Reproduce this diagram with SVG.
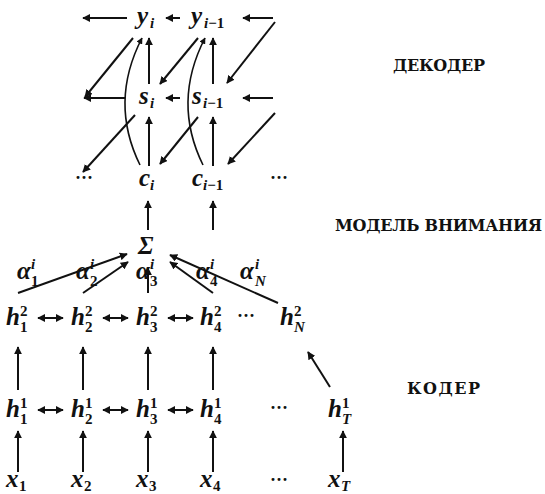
<svg xmlns="http://www.w3.org/2000/svg" width="545" height="494" viewBox="0 0 545 494">
<style>
.t{font-family:"Liberation Serif","Times New Roman",serif;fill:#111}
.m{font-style:italic;font-weight:bold;font-size:25px}
.s{font-style:italic;font-weight:bold;font-size:15px}
.n{font-style:normal;font-weight:bold;font-size:15px}
.d{font-size:18px;font-weight:bold}
.lbl{font-family:"DejaVu Serif",serif;font-weight:bold;font-size:16px;fill:#111}
.a{stroke:#111;stroke-width:2;fill:none;marker-end:url(#h)}
.b{stroke:#111;stroke-width:2;fill:none;marker-end:url(#h);marker-start:url(#hs)}
.c{stroke:#111;stroke-width:1.6;fill:none;marker-end:url(#h)}
</style>
<defs>
<marker id="h" viewBox="0 0 10 10" refX="9" refY="5" markerWidth="4" markerHeight="4" orient="auto" markerUnits="strokeWidth"><path d="M0,0 L10,5 L0,10 z" fill="#111"/></marker>
<marker id="hs" viewBox="0 0 10 10" refX="1" refY="5" markerWidth="4" markerHeight="4" orient="auto" markerUnits="strokeWidth"><path d="M10,0 L0,5 L10,10 z" fill="#111"/></marker>
</defs>
<rect width="545" height="494" fill="#fff"/>
<g id="connectors">
<line class="a" x1="127" y1="18" x2="83" y2="18"/>
<line class="a" x1="180" y1="18" x2="166" y2="18"/>
<line class="a" x1="273" y1="18" x2="243" y2="18"/>
<line class="a" x1="125" y1="98" x2="84" y2="98"/>
<line class="a" x1="180" y1="98" x2="166" y2="98"/>
<line class="a" x1="273" y1="98" x2="243" y2="98"/>
<line class="a" x1="133" y1="38" x2="85" y2="97"/>
<line class="a" x1="198" y1="38" x2="160" y2="84"/>
<line class="a" x1="275" y1="22" x2="227" y2="83"/>
<line class="a" x1="149" y1="84" x2="149" y2="38"/>
<line class="a" x1="213" y1="84" x2="213" y2="38"/>
<path class="c" d="M140,165 Q109,102 142,38"/>
<path class="c" d="M203,165 Q172,102 205,38"/>
<line class="a" x1="135" y1="115" x2="83" y2="172"/>
<line class="a" x1="198" y1="117" x2="160" y2="164"/>
<line class="a" x1="275" y1="113" x2="228" y2="164"/>
<line class="a" x1="149" y1="166" x2="149" y2="117"/>
<line class="a" x1="213" y1="166" x2="213" y2="117"/>
<line class="a" x1="148" y1="230" x2="148" y2="201"/>
<line class="a" x1="213" y1="230" x2="213" y2="201"/>
<line class="a" x1="18" y1="293" x2="127" y2="254"/>
<line class="a" x1="83" y1="293" x2="128" y2="262"/>
<line class="a" x1="148" y1="293" x2="148" y2="268"/>
<line class="a" x1="213" y1="293" x2="170" y2="262"/>
<line class="a" x1="278" y1="303" x2="170" y2="255"/>
<line class="b" x1="38" y1="318" x2="63" y2="318"/>
<line class="b" x1="103" y1="318" x2="128" y2="318"/>
<line class="b" x1="168" y1="318" x2="193" y2="318"/>
<line class="a" x1="18" y1="390" x2="18" y2="347"/>
<line class="a" x1="83" y1="390" x2="83" y2="347"/>
<line class="a" x1="148" y1="390" x2="148" y2="347"/>
<line class="a" x1="213" y1="390" x2="213" y2="347"/>
<line class="a" x1="330" y1="387" x2="308" y2="352"/>
<line class="b" x1="38" y1="410" x2="63" y2="410"/>
<line class="b" x1="103" y1="410" x2="128" y2="410"/>
<line class="b" x1="168" y1="410" x2="193" y2="410"/>
<line class="a" x1="18" y1="472" x2="18" y2="431"/>
<line class="a" x1="83" y1="472" x2="83" y2="431"/>
<line class="a" x1="148" y1="472" x2="148" y2="431"/>
<line class="a" x1="213" y1="472" x2="213" y2="431"/>
<line class="a" x1="343" y1="472" x2="343" y2="431"/>
</g>
<g id="y_i" class="t"><text class="m" x="137" y="24">y</text><text class="s" x="150" y="28">i</text></g>
<g id="y_im1" class="t"><text class="m" x="191" y="24">y</text><text class="s" x="204" y="28">i<tspan class="n">−1</tspan></text></g>
<g id="s_i" class="t"><text class="m" x="139" y="104">s</text><text class="s" x="150" y="108">i</text></g>
<g id="s_im1" class="t"><text class="m" x="192" y="104">s</text><text class="s" x="203" y="108">i<tspan class="n">−1</tspan></text></g>
<g id="c_dots_l" class="t"><text class="d" x="75" y="184">···</text></g>
<g id="c_i" class="t"><text class="m" x="139" y="186">c</text><text class="s" x="150" y="190">i</text></g>
<g id="c_im1" class="t"><text class="m" x="192" y="186">c</text><text class="s" x="203" y="190">i<tspan class="n">−1</tspan></text></g>
<g id="c_dots_r" class="t"><text class="d" x="270" y="184">···</text></g>
<g id="sigma" class="t"><text class="m" x="138" y="254">Σ</text></g>
<g id="alpha1" class="t"><text class="m" x="17" y="279">α</text><text class="s" x="31" y="269">i</text><text class="n" x="31" y="286">1</text></g>
<g id="alpha2" class="t"><text class="m" x="76" y="279">α</text><text class="s" x="90" y="269">i</text><text class="n" x="90" y="286">2</text></g>
<g id="alpha3" class="t"><text class="m" x="136" y="279">α</text><text class="s" x="150" y="269">i</text><text class="n" x="150" y="286">3</text></g>
<g id="alpha4" class="t"><text class="m" x="196" y="279">α</text><text class="s" x="210" y="269">i</text><text class="n" x="210" y="286">4</text></g>
<g id="alphaN" class="t"><text class="m" x="240" y="279">α</text><text class="s" x="255" y="269">i</text><text class="s" x="255" y="286">N</text></g>
<g id="h2_1" class="t"><text class="m" x="6" y="325">h</text><text class="n" x="20" y="316">2</text><text class="n" x="20" y="332">1</text></g>
<g id="h2_2" class="t"><text class="m" x="71" y="325">h</text><text class="n" x="85" y="316">2</text><text class="n" x="85" y="332">2</text></g>
<g id="h2_3" class="t"><text class="m" x="136" y="325">h</text><text class="n" x="150" y="316">2</text><text class="n" x="150" y="332">3</text></g>
<g id="h2_4" class="t"><text class="m" x="200" y="325">h</text><text class="n" x="214" y="316">2</text><text class="n" x="214" y="332">4</text></g>
<g id="h2_dots" class="t"><text class="d" x="237" y="322">···</text></g>
<g id="h2_N" class="t"><text class="m" x="280" y="325">h</text><text class="n" x="294" y="316">2</text><text class="s" x="294" y="332">N</text></g>
<g id="h1_1" class="t"><text class="m" x="6" y="417">h</text><text class="n" x="20" y="408">1</text><text class="n" x="20" y="424">1</text></g>
<g id="h1_2" class="t"><text class="m" x="71" y="417">h</text><text class="n" x="85" y="408">1</text><text class="n" x="85" y="424">2</text></g>
<g id="h1_3" class="t"><text class="m" x="136" y="417">h</text><text class="n" x="150" y="408">1</text><text class="n" x="150" y="424">3</text></g>
<g id="h1_4" class="t"><text class="m" x="200" y="417">h</text><text class="n" x="214" y="408">1</text><text class="n" x="214" y="424">4</text></g>
<g id="h1_dots" class="t"><text class="d" x="270" y="414">···</text></g>
<g id="h1_T" class="t"><text class="m" x="328" y="417">h</text><text class="n" x="342" y="408">1</text><text class="s" x="342" y="424">T</text></g>
<g id="x1" class="t"><text class="m" x="6" y="487">x</text><text class="n" x="19" y="491">1</text></g>
<g id="x2" class="t"><text class="m" x="71" y="487">x</text><text class="n" x="84" y="491">2</text></g>
<g id="x3" class="t"><text class="m" x="136" y="487">x</text><text class="n" x="149" y="491">3</text></g>
<g id="x4" class="t"><text class="m" x="200" y="487">x</text><text class="n" x="213" y="491">4</text></g>
<g id="x_dots" class="t"><text class="d" x="270" y="486">···</text></g>
<g id="xT" class="t"><text class="m" x="328" y="487">x</text><text class="s" x="341" y="491">T</text></g>
<g id="label_decoder"><text class="lbl" x="393" y="71" textLength="92">ДЕКОДЕР</text></g>
<g id="label_attention"><text class="lbl" x="335" y="231" textLength="207">МОДЕЛЬ ВНИМАНИЯ</text></g>
<g id="label_encoder"><text class="lbl" x="407" y="394" textLength="73">КОДЕР</text></g>
</svg>
